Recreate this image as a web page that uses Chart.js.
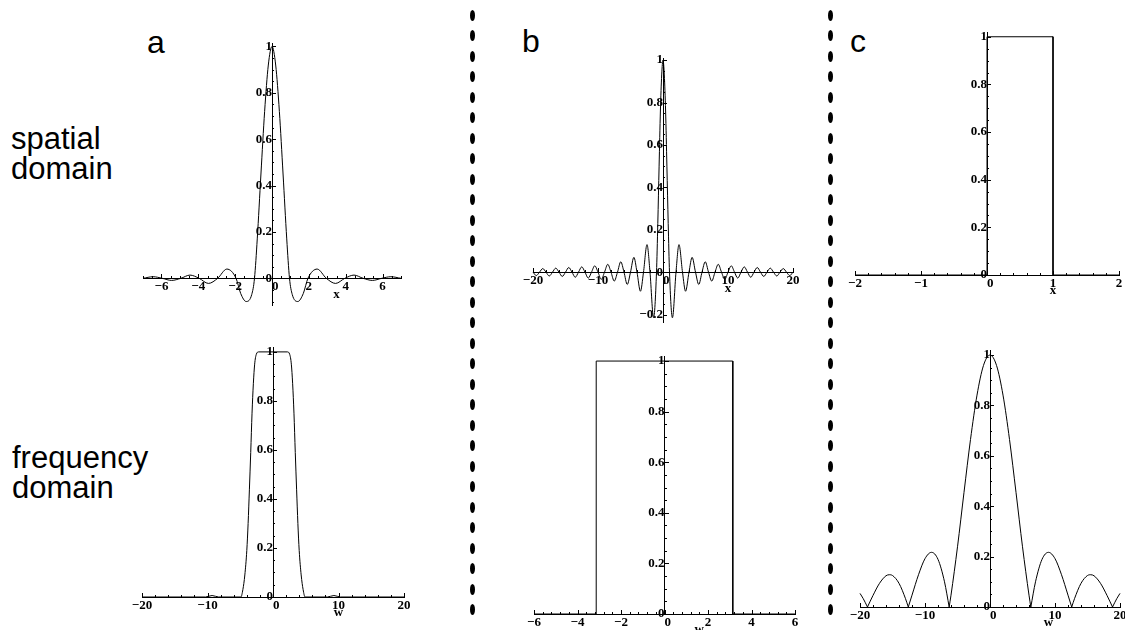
<!DOCTYPE html>
<html>
<head>
<meta charset="utf-8">
<script src="https://cdn.jsdelivr.net/npm/chart.js@4.4.1/dist/chart.umd.min.js"></script>
<style>
  html, body { margin: 0; padding: 0; background: #fff; }
  body { width: 1125px; height: 630px; position: relative; overflow: hidden; font-family: "Liberation Sans", Arial, sans-serif; color: #000; }
  .panel { position: absolute; }
  .row { position: absolute; font-size: 31px; line-height: 30px; }
  .letter { position: absolute; font-size: 32px; line-height: 32px; }
  .dot { position: absolute; width: 5px; height: 11px; border-radius: 50%; background: #000; }
</style>
</head>
<body>
<div class="letter" style="left:147px;top:26px">a</div>
<div class="letter" style="left:522px;top:25px">b</div>
<div class="letter" style="left:850px;top:25px">c</div>
<div class="row" style="left:11px;top:124px">spatial<br>domain</div>
<div class="row" style="left:12px;top:443px">frequency<br>domain</div>

<script>
// values, [x, y]
const spatialA = [
  [-7, 0], [-6.45, 0.007], [-5.95, 0], [-5.45, -0.009], [-4.95, 0], [-4.45, 0.014], [-3.95, 0],
  [-3.45, -0.022], [-2.95, 0], [-2.45, 0.04], [-1.95, 0], [-1.7, -0.065], [-1.4, -0.1], [-1.1, -0.07],
  [-0.95, 0], [-0.8, 0.17], [-0.6, 0.45], [-0.4, 0.72], [-0.2, 0.92], [0, 1],
  [0.2, 0.92], [0.4, 0.72], [0.6, 0.45], [0.8, 0.17], [0.95, 0], [1.1, -0.07], [1.4, -0.1], [1.7, -0.065],
  [1.95, 0], [2.45, 0.04], [2.95, 0], [3.45, -0.022], [3.95, 0], [4.45, 0.014], [4.95, 0],
  [5.45, -0.009], [5.95, 0], [6.45, 0.007], [7, 0]
];

const spatialB = [
  [-20, 0], [-19.5, -0.016], [-19, 0], [-18.5, 0.017], [-18, 0], [-17.5, -0.018], [-17, 0], [-16.5, 0.019],
  [-16, 0], [-15.5, -0.02], [-15, 0], [-14.5, 0.022], [-14, 0], [-13.5, -0.024], [-13, 0], [-12.5, 0.025],
  [-12, 0], [-11.5, -0.028], [-11, 0], [-10.5, 0.03], [-10, 0], [-9.5, -0.034], [-9, 0], [-8.5, 0.037],
  [-8, 0], [-7.5, -0.042], [-7, 0], [-6.5, 0.049], [-6, 0], [-5.5, -0.058], [-5, 0], [-4.48, 0.07],
  [-4, 0], [-3.47, -0.09], [-3, 0], [-2.46, 0.13], [-2, 0], [-1.45, -0.215], [-1, 0],
  [-0.8, 0.23], [-0.6, 0.5], [-0.4, 0.76], [-0.2, 0.93], [0, 1],
  [0.2, 0.93], [0.4, 0.76], [0.6, 0.5], [0.8, 0.23],
  [1, 0], [1.45, -0.215], [2, 0], [2.46, 0.13], [3, 0], [3.47, -0.09], [4, 0], [4.48, 0.07],
  [5, 0], [5.5, -0.058], [6, 0], [6.5, 0.049], [7, 0], [7.5, -0.042], [8, 0], [8.5, 0.037],
  [9, 0], [9.5, -0.034], [10, 0], [10.5, 0.03], [11, 0], [11.5, -0.028], [12, 0], [12.5, 0.025],
  [13, 0], [13.5, -0.024], [14, 0], [14.5, 0.022], [15, 0], [15.5, -0.02], [16, 0], [16.5, 0.019],
  [17, 0], [17.5, -0.018], [18, 0], [18.5, 0.017], [19, 0], [19.5, -0.016], [20, 0]
];

const spatialC = [[-2, 0], [0, 0], [0, 1], [1, 1], [1, 0], [2, 0]];

const freqA = [
  [-20, 0], [-12, 0], [-10.3, 0], [-9.3, 0.006], [-8.3, 0], [-4.9, 0], [-4.6, 0.03], [-4.3, 0.09],
  [-4, 0.19], [-3.8, 0.3], [-3.6, 0.44], [-3.4, 0.59], [-3.2, 0.75], [-3, 0.87], [-2.8, 0.95],
  [-2.55, 0.99], [-2.2, 1], [0, 1], [2.2, 1], [2.55, 0.99], [2.8, 0.95], [3, 0.87], [3.2, 0.75],
  [3.4, 0.59], [3.6, 0.44], [3.8, 0.3], [4, 0.19], [4.3, 0.09], [4.6, 0.03], [4.9, 0],
  [8.3, 0], [9.3, 0.006], [10.3, 0], [12, 0], [20, 0]
];

const freqB = [[-6, 0], [-3.14, 0], [-3.14, 1], [3.14, 1], [3.14, 0], [6, 0]];

const freqC = [
  [-20, 0.054], [-19.5, 0.033], [-18.85, 0], [-18, 0.046], [-17, 0.094], [-16, 0.124], [-15.5, 0.128],
  [-15, 0.125], [-14, 0.094], [-13, 0.033], [-12.57, 0], [-12, 0.047], [-11, 0.128], [-10, 0.192],
  [-9, 0.217], [-8, 0.189], [-7, 0.1], [-6.28, 0], [-6, 0.047], [-5, 0.239], [-4, 0.455], [-3, 0.665],
  [-2, 0.841], [-1, 0.959], [0, 1], [1, 0.959], [2, 0.841], [3, 0.665], [4, 0.455], [5, 0.239],
  [6, 0.047], [6.28, 0], [7, 0.1], [8, 0.189], [9, 0.217], [10, 0.192], [11, 0.128], [12, 0.047],
  [12.57, 0], [13, 0.033], [14, 0.094], [15, 0.125], [15.5, 0.128], [16, 0.124], [17, 0.094],
  [18, 0.046], [18.85, 0], [19.5, 0.033], [20, 0.054]
];

// tick steps [minor, major]
const xStepsA = [0.5, 2], xStepsB = [2, 10], xStepsC = [0.2, 1];
const wStepsA = [2, 10], wStepsB = [0.4, 2], wStepsC = [2, 10];
const ySteps = [0.05, 0.2];

// where each plot area sits on the page (left, right, top, bottom in px)
const panels = [
  { data: spatialA, mode: 'monotone', x: [-7, 7], y: [-0.115, 1.015], xs: xStepsA, box: [143.2, 400.8, 43.3, 304.9], title: 'x', titleAt: 3.5 },
  { data: spatialB, mode: 'monotone', x: [-20, 20], y: [-0.235, 1.01], xs: xStepsB, box: [533, 793, 57.6, 321.5], title: 'x', titleAt: 10 },
  { data: spatialC, mode: 'linear', x: [-2, 2], y: [0, 1.02], xs: xStepsC, box: [855.3, 1119.3, 31.5, 274.3], title: 'x', titleAt: 1 },
  { data: freqA, mode: 'monotone', x: [-20, 20], y: [0, 1.02], xs: wStepsA, box: [141.5, 403.5, 347.1, 597], title: 'w', titleAt: 10 },
  { data: freqB, mode: 'linear', x: [-6, 6], y: [0, 1.02], xs: wStepsB, box: [533.8, 794.8, 356, 614], title: 'w', titleAt: 1.6 },
  { data: freqC, mode: 'lobes', x: [-20, 20], y: [0, 1.02], xs: wStepsC, box: [860.3, 1120.3, 350, 607], title: 'w', titleAt: 9 }
];

const tickFont = { family: 'Liberation Serif', size: 13, weight: 'bold' };

function tickList(min, max, step) {
  const out = [];
  for (let i = Math.ceil(min / step - 1e-9); i * step <= max + 1e-9; i++) {
    out.push({ value: Math.round(i * step * 1000) / 1000 });
  }
  return out;
}

function tickLabel(v, major, isX) {
  const r = v / major;
  if (Math.abs(r - Math.round(r)) > 1e-6) return '';
  if (v === 0) return isX ? '  0' : '0';
  return v < 0 ? '\u2212' + String(-v) : String(v);
}

// Maple style marks: short ticks on the inner side, axis letter under the axis
const axisMarks = {
  id: 'axisMarks',
  afterDraw(chart, args, opts) {
    const ctx = chart.ctx;
    const xs = chart.scales.x, ys = chart.scales.y;
    const x0 = xs.getPixelForValue(0), y0 = ys.getPixelForValue(0);
    ctx.save();
    ctx.strokeStyle = '#000';
    ctx.lineWidth = 1;
    ctx.beginPath();
    xs.ticks.forEach(t => {
      const px = Math.round(xs.getPixelForValue(t.value)) + 0.5;
      ctx.moveTo(px, Math.round(y0));
      ctx.lineTo(px, Math.round(y0) - (t.label ? 4 : 2));
    });
    ys.ticks.forEach(t => {
      const py = Math.round(ys.getPixelForValue(t.value)) + 0.5;
      ctx.moveTo(Math.round(x0), py);
      ctx.lineTo(Math.round(x0) + (t.label ? 4 : 2), py);
    });
    ctx.stroke();
    ctx.fillStyle = '#000';
    ctx.font = 'bold 13px "Liberation Serif"';
    ctx.textAlign = 'center';
    ctx.textBaseline = 'middle';
    ctx.fillText(opts.title, xs.getPixelForValue(opts.titleAt), y0 + 16);
    ctx.restore();
  }
};

function splitLobes(pts) {
  const parts = [];
  let cur = [];
  pts.forEach((p, i) => {
    cur.push(p);
    if (p[1] === 0 && i > 0 && i < pts.length - 1) {
      parts.push(cur);
      cur = [p];
    }
  });
  if (cur.length > 1) parts.push(cur);
  return parts;
}

function lineSet(pts, mode) {
  return {
    data: pts.map(p => ({ x: p[0], y: p[1] })),
    borderColor: '#000',
    borderWidth: 1,
    pointRadius: 0,
    fill: false,
    tension: 0,
    cubicInterpolationMode: mode === 'linear' ? 'default' : 'monotone',
    clip: false
  };
}

const PAD = 20, PAD_BOTTOM = 32;

panels.forEach(p => {
  const [l, r, t, b] = p.box;
  const wrap = document.createElement('div');
  wrap.className = 'panel';
  wrap.style.left = (l - PAD) + 'px';
  wrap.style.top = (t - PAD) + 'px';
  const w = Math.round(r - l + 2 * PAD), h = Math.round(b - t + PAD + PAD_BOTTOM);
  const canvas = document.createElement('canvas');
  canvas.width = w;
  canvas.height = h;
  canvas.style.width = w + 'px';
  canvas.style.height = h + 'px';
  wrap.appendChild(canvas);
  document.body.appendChild(wrap);

  const sets = p.mode === 'lobes'
    ? splitLobes(p.data).map(part => lineSet(part, 'monotone'))
    : [lineSet(p.data, p.mode)];

  new Chart(canvas.getContext('2d'), {
    type: 'line',
    data: { datasets: sets },
    plugins: [axisMarks],
    options: {
      responsive: false,
      devicePixelRatio: 1,
      animation: false,
      events: [],
      layout: { padding: { left: PAD, right: PAD, top: PAD, bottom: PAD_BOTTOM } },
      plugins: {
        legend: { display: false },
        tooltip: { enabled: false },
        axisMarks: { title: p.title, titleAt: p.titleAt }
      },
      scales: {
        x: {
          type: 'linear',
          min: p.x[0],
          max: p.x[1],
          position: { y: 0 },
          afterBuildTicks: s => { s.ticks = tickList(p.x[0], p.x[1], p.xs[0]); },
          ticks: {
            autoSkip: false, maxRotation: 0, minRotation: 0, padding: 1,
            font: tickFont, color: '#000',
            callback: v => tickLabel(v, p.xs[1], true)
          },
          grid: { display: true, drawOnChartArea: false, drawTicks: false },
          border: { display: true, color: '#000', width: 1 }
        },
        y: {
          type: 'linear',
          min: p.y[0],
          max: p.y[1],
          position: { x: 0 },
          afterBuildTicks: s => { s.ticks = tickList(p.y[0], p.y[1], ySteps[0]); },
          ticks: {
            autoSkip: false, padding: 3,
            font: tickFont, color: '#000',
            callback: v => tickLabel(v, ySteps[1], false)
          },
          grid: { display: true, drawOnChartArea: false, drawTicks: false },
          border: { display: true, color: '#000', width: 1 }
        }
      }
    }
  });
});

// dotted separators
[472, 830.7].forEach(cx => {
  for (let cy = 15; cy < 630; cy += 20.5) {
    const d = document.createElement('div');
    d.className = 'dot';
    d.style.left = (cx - 2.5) + 'px';
    d.style.top = (cy - 5.5) + 'px';
    document.body.appendChild(d);
  }
});
</script>
</body>
</html>
